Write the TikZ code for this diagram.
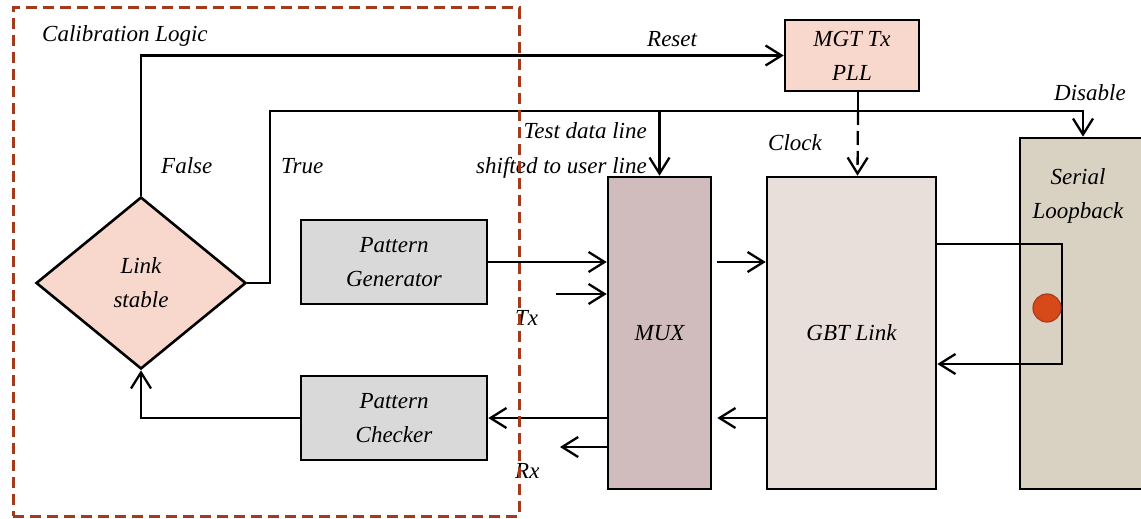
\documentclass[tikz,border=0pt]{standalone}
\usepackage{fontspec}
\setmainfont{Liberation Serif}
\usetikzlibrary{shapes.geometric,arrows.meta}
\definecolor{peach}{HTML}{F8D8CC}
\definecolor{boxgray}{HTML}{D9D9D9}
\definecolor{muxcol}{HTML}{D1BCBD}
\definecolor{gbtcol}{HTML}{E8DEDA}
\definecolor{slcol}{HTML}{D9D2C3}
\definecolor{dashcol}{HTML}{A33A1A}
\definecolor{ledfill}{HTML}{D64A1A}
\definecolor{leddraw}{HTML}{B0381A}
\begin{document}
\begin{tikzpicture}[x=1pt,y=-1pt,
  font=\itshape\fontsize{23}{34}\selectfont,
  box/.style={draw=black, line width=2.6pt, inner sep=0pt, align=center},
  conn/.style={line width=2.3pt, -{Straight Barb[length=16pt,width=20pt,line width=2.3pt]}},
  plain/.style={line width=2.3pt},
  lbl/.style={inner sep=0pt}]
\useasboundingbox (0,0) rectangle (1141,519);
\clip (0,0) rectangle (1141,519);
% blocks
\node[box, shape=diamond, fill=peach, minimum width=210, minimum height=172] (ls) at (141,283) {Link\\stable};
\node[box, fill=peach, minimum width=134, minimum height=71] (mgt) at (852,55.5) {MGT Tx\\PLL};
\node[box, fill=boxgray, minimum width=186, minimum height=84] (pg) at (394,262) {Pattern\\Generator};
\node[box, fill=boxgray, minimum width=186, minimum height=84] (pc) at (394,418) {Pattern\\Checker};
\node[box, fill=muxcol, minimum width=103, minimum height=312] (mux) at (659.5,333) {MUX};
\node[box, fill=gbtcol, minimum width=169, minimum height=312] (gbt) at (851.5,333) {GBT Link};
\node[box, fill=slcol, minimum width=126, minimum height=351] (sl) at (1083,313.5) {};
\node[lbl, align=center] (slt) at (1078,196) {Serial\\Loopback};
% coordinates
\coordinate (tr) at (270,111);
\coordinate (txs) at (556,294);
\coordinate (rxe) at (560,447);
\coordinate (lp1) at (1062,244);
\coordinate (lp2) at (1062,364);
% connectors
\draw[conn] (ls.north) |- (mgt.west);
\draw[conn] (ls.east) -| (tr) -| (sl.north);
\draw[conn] (mux.north |- tr) -- (mux.north);
\draw[plain] ([xshift=6pt]mgt.south) -- ([xshift=6pt]mgt.south |- tr);
\draw[conn, dash pattern=on 14pt off 6pt] ([xshift=6pt]mgt.south |- tr) -- ([xshift=6pt]gbt.north);
\draw[conn] (pg.east) -- (pg.east -| mux.west);
\draw[conn] (txs) -- (txs -| mux.west);
\draw[conn] (pc.east -| mux.west) -- (pc.east);
\draw[conn] (rxe -| mux.west) -- (rxe);
\draw[conn] (pc.west) -| (ls.south);
\draw[conn] ([xshift=5pt]mux.east |- pg.east) -- (gbt.west |- pg.east);
\draw[conn] (gbt.west |- pc.east) -- ([xshift=5pt]mux.east |- pc.east);
\draw[conn] (gbt.east |- lp1) -- (lp1) -- (lp2) -- (gbt.east |- lp2);
\node[circle, fill=ledfill, draw=leddraw, line width=1.2pt, minimum size=28, inner sep=0pt] (led) at (1047,308) {};
% labels
\node[lbl, anchor=base west] (cal) at (42,42) {Calibration Logic};
\node[lbl, anchor=base west] (rst) at (647,47) {Reset};
\node[lbl, anchor=base west] (fls) at (161,173) {False};
\node[lbl, anchor=base west] (tru) at (281,173) {True};
\node[lbl, anchor=base east] (tdl) at (647,138) {Test data line};
\node[lbl, anchor=base east] (stu) at (647,173) {shifted to user line};
\node[lbl, anchor=base west] (clk) at (768,150) {Clock};
\node[lbl, anchor=base west] (dis) at (1054,100) {Disable};
\node[lbl, anchor=base west] (tx) at (515,325) {Tx};
\node[lbl, anchor=base west] (rx) at (515,478) {Rx};
% calibration logic boundary
\node[draw=dashcol, line width=3pt, dash pattern=on 11pt off 6pt, minimum width=506, minimum height=508, inner sep=0pt] (calbox) at (266,262) {};
\end{tikzpicture}
\end{document}
